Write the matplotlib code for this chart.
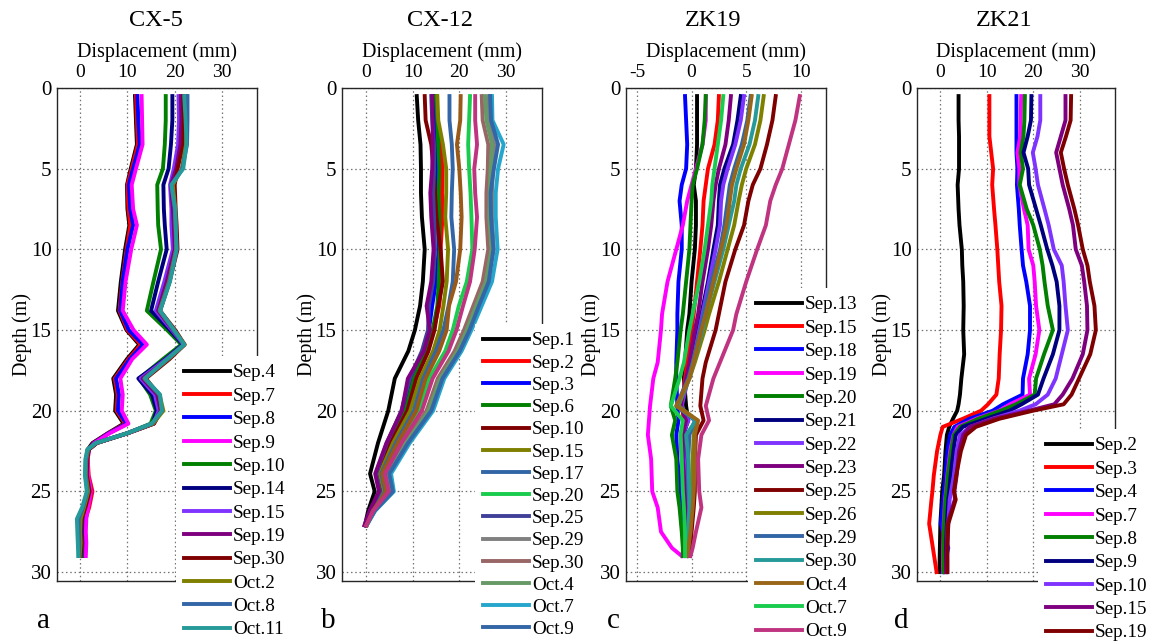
import matplotlib
matplotlib.use("Agg")
import matplotlib.pyplot as plt

plt.rcParams["font.family"] = ["Liberation Serif", "DejaVu Serif"]
plt.rcParams["axes.unicode_minus"] = False

# ---------------- CX-5 ----------------
cx5_depth = [0.5, 2, 3.5, 5, 6, 7.5, 8.5, 10, 12, 13.8, 15, 15.9, 16.8, 18, 19, 20,
             20.8, 21.4, 22, 22.4, 23, 24, 25, 26, 26.7, 27.5, 28.2, 29]
cx5_dates = ["Sep.4", "Sep.7", "Sep.8", "Sep.9", "Sep.10", "Sep.14", "Sep.15",
             "Sep.19", "Sep.30", "Oct.2", "Oct.8", "Oct.11"]
cx5_sep4 = [11.6, 11.8, 12.0, 10.7, 9.9, 10.0, 10.4, 9.5, 8.6, 8.0, 9.8, 12.5, 9.9, 7.0,
            7.6, 7.4, 9.2, 5.8, 2.6, 1.6, 1.3, 1.4, 2.1, 1.2, 0.6, 0.5, 0.5, 0.4]
cx5_sep7 = [11.8, 12.0, 12.2, 10.9, 10.0, 10.2, 10.6, 9.8, 8.9, 8.3, 10.0, 12.8, 10.2, 7.3,
            7.9, 7.7, 9.5, 5.9, 2.8, 1.8, 1.6, 1.8, 2.6, 1.9, 1.1, 0.8, 0.9, 0.8]
cx5_sep8 = [12.1, 12.3, 12.6, 11.2, 10.3, 10.6, 11.2, 10.0, 9.0, 8.5, 10.3, 13.3, 10.5, 7.6,
            8.2, 8.0, 9.8, 6.0, 2.9, 1.8, 1.5, 1.6, 2.3, 1.6, 1.0, 1.0, 1.1, 1.0]
cx5_sep9 = [13.0, 13.1, 13.2, 11.8, 10.9, 11.2, 12.0, 10.8, 9.6, 9.0, 11.3, 14.1, 11.0, 8.5,
            9.0, 8.8, 10.2, 6.2, 3.0, 1.9, 1.6, 1.7, 2.3, 1.7, 1.3, 1.2, 1.3, 1.2]
cx5_sep10 = [18.1, 18.1, 17.9, 17.5, 16.3, 16.4, 16.5, 17.1, 15.5, 14.1, 18.4, 21.4, 17.5, 12.5,
             14.8, 16.0, 14.9, 9.9, 3.4, 1.8, 1.3, 1.3, 1.8, 1.0, 0.3, 0.2, 0.3, 0.3]
cx5_sep14 = [19.5, 19.5, 19.2, 18.7, 17.6, 17.7, 17.9, 18.3, 16.5, 15.0, 19.0, 21.7, 18.0, 12.3,
             15.2, 16.2, 15.3, 9.9, 3.4, 1.8, 1.3, 1.2, 1.6, 0.8, 0.0, -0.1, 0.2, 0.0]
cx5_sep15 = [20.8, 20.9, 20.7, 19.8, 19.0, 19.3, 19.3, 19.6, 17.8, 16.0, 19.4, 21.9, 18.2, 12.8,
             15.8, 16.6, 15.5, 10.0, 3.5, 1.8, 1.4, 1.2, 1.6, 0.9, 0.2, 0.1, 0.2, 0.0]
cx5_sep19 = [21.3, 21.4, 21.2, 20.3, 19.2, 19.6, 19.8, 20.0, 18.3, 16.5, 19.6, 22.0, 18.6, 13.2,
             16.3, 17.0, 15.6, 10.0, 3.5, 1.8, 1.4, 1.3, 1.7, 0.9, 0.2, 0.1, 0.2, 0.0]
cx5_sep30 = [21.8, 21.9, 21.8, 20.6, 20.0, 20.2, 20.4, 20.6, 18.9, 16.9, 20.1, 22.1, 18.9, 13.9,
             16.6, 17.2, 15.6, 10.0, 3.5, 1.8, 1.5, 1.4, 2.0, 1.1, 0.3, 0.2, 0.3, 0.1]
cx5_oct2 = [22.5, 22.6, 22.4, 21.5, 19.6, 20.1, 20.2, 20.3, 18.8, 16.8, 19.8, 22.1, 18.6, 13.6,
            16.8, 17.6, 15.4, 9.9, 3.4, 1.7, 1.3, 1.2, 1.7, 0.8, 0.1, 0.0, 0.1, -0.1]
cx5_oct8 = [22.7, 22.7, 22.6, 21.6, 19.3, 20.0, 20.2, 20.4, 18.9, 16.9, 19.7, 22.0, 18.5, 13.6,
            16.7, 17.3, 15.2, 9.8, 3.3, 1.6, 1.2, 1.1, 1.5, 0.6, -0.3, -0.3, -0.2, -0.3]
cx5_oct11 = [22.0, 22.3, 22.5, 21.8, 19.3, 20.1, 20.2, 20.4, 19.0, 16.9, 19.9, 22.0, 18.4, 13.7,
             16.9, 17.3, 15.1, 9.9, 3.3, 1.5, 1.1, 1.0, 1.4, 0.4, -0.7, -0.6, -0.5, -0.4]
cx5_colors = ["#000000", "#ff0000", "#0000ff", "#ff00ff", "#007f00", "#00007f",
              "#7f33ff", "#7f007f", "#7f0000", "#7f7f00", "#3366a6", "#269999"]

# ---------------- CX-12 ----------------
cx12_depth = [0.5, 2, 3.5, 5, 6.5, 8, 10, 12, 13.5, 15, 16.3, 18, 20, 22, 23.9, 25, 26.2, 27.1]
cx12_dates = ["Sep.1", "Sep.2", "Sep.3", "Sep.6", "Sep.10", "Sep.15", "Sep.17", "Sep.20",
              "Sep.25", "Sep.29", "Sep.30", "Oct.4", "Oct.7", "Oct.9"]
cx12_sep1 = [10.9, 11.2, 11.7, 11.8, 11.8, 12.0, 12.6, 12.2, 11.6, 10.5, 9.1, 6.2, 4.8, 2.6, 0.9, 1.9, 0.5, -0.2]
cx12_sep2 = [14.8, 15.0, 16.0, 16.4, 16.3, 16.4, 16.0, 16.2, 15.7, 14.5, 13.0, 10.5, 8.6, 5.5, 2.7, 3.6, 1.2, 0.2]
cx12_sep3 = [14.5, 14.6, 15.2, 15.3, 15.0, 15.4, 15.6, 15.0, 14.2, 13.5, 12.2, 9.6, 7.8, 4.6, 2.3, 3.2, 1.0, -0.1]
cx12_sep6 = [15.0, 15.3, 15.5, 15.7, 15.6, 15.7, 15.8, 15.6, 15.3, 14.3, 12.8, 10.3, 8.5, 5.0, 2.6, 3.4, 1.1, 0.0]
cx12_sep10 = [12.6, 12.8, 14.0, 14.5, 14.8, 15.1, 16.0, 16.5, 15.5, 14.7, 13.4, 10.8, 8.9, 5.3, 2.8, 3.7, 1.2, 0.0]
cx12_sep15 = [15.3, 15.5, 16.5, 17.2, 17.2, 17.0, 17.6, 17.3, 16.6, 15.8, 14.4, 11.6, 9.5, 5.8, 3.0, 3.9, 1.3, 0.0]
cx12_sep17 = [17.9, 17.9, 18.4, 18.6, 18.4, 18.3, 18.9, 18.6, 17.7, 16.6, 15.0, 12.3, 10.3, 6.4, 3.3, 4.2, 1.4, 0.1]
cx12_sep20 = [22.3, 22.1, 21.9, 22.1, 22.4, 22.6, 22.8, 21.6, 19.9, 18.6, 17.0, 13.6, 11.4, 7.2, 3.8, 4.6, 1.5, 0.1]
cx12_sep25 = [14.0, 14.2, 14.6, 14.6, 14.4, 14.6, 14.8, 14.4, 13.5, 13.3, 12.0, 9.4, 7.6, 4.5, 2.2, 3.0, 0.9, -0.2]
cx12_sep29 = [26.3, 26.4, 27.5, 27.2, 27.0, 27.0, 27.4, 26.0, 23.8, 21.8, 19.6, 16.0, 13.6, 8.6, 4.7, 5.6, 1.8, 0.2]
cx12_sep30 = [24.8, 25.0, 26.2, 26.1, 25.8, 25.8, 26.2, 25.0, 23.0, 21.0, 19.0, 15.4, 13.0, 8.2, 4.5, 5.4, 1.7, 0.1]
cx12_oct4 = [25.5, 25.8, 27.0, 26.7, 26.5, 26.4, 26.9, 25.7, 23.6, 21.6, 19.6, 15.9, 13.4, 8.6, 4.8, 5.8, 1.9, 0.1]
cx12_oct7 = [27.0, 27.1, 29.5, 28.3, 27.8, 27.8, 28.2, 27.0, 24.8, 22.6, 20.5, 16.8, 14.4, 9.4, 5.4, 6.0, 2.0, 0.2]
cx12_oct9 = [26.6, 26.8, 28.3, 27.4, 26.7, 26.8, 27.3, 26.3, 24.2, 22.2, 20.1, 16.4, 14.0, 9.0, 5.0, 5.8, 1.9, 0.1]
# further readings drawn without legend entries
cx12_run_purple = [14.2, 14.3, 14.3, 14.2, 13.8, 14.0, 14.5, 14.0, 13.0, 13.7, 12.4, 9.0, 7.7, 4.4, 2.0, 2.8, 0.8, -0.3]
cx12_run_brown = [20.3, 20.2, 19.5, 20.0, 20.3, 20.5, 20.2, 19.3, 17.8, 17.3, 15.7, 12.8, 10.8, 6.8, 3.5, 4.4, 1.5, 0.1]
cx12_run_rose = [23.4, 23.4, 23.8, 23.2, 23.4, 23.8, 23.3, 22.3, 20.8, 19.4, 17.7, 14.3, 12.0, 7.6, 4.1, 4.9, 1.6, 0.1]
cx12_colors = ["#000000", "#ff0000", "#0000ff", "#007f00", "#7f0000", "#7f7f00", "#3366a6",
               "#1acc4d", "#404099", "#808080", "#996666", "#669966", "#26a6cc", "#3366a6"]
cx12_extra_colors = ["#7f007f", "#995919", "#bf3380"]

# ---------------- ZK19 ----------------
zk19_depth = [0.5, 2, 3.5, 5, 6, 7, 8.5, 10, 12, 14, 15, 17, 18, 19.7, 20.6, 21.5, 23, 25,
              26, 27.5, 28.5, 29]
zk19_dates = ["Sep.13", "Sep.15", "Sep.18", "Sep.19", "Sep.20", "Sep.21", "Sep.22", "Sep.23",
              "Sep.25", "Sep.26", "Sep.29", "Sep.30", "Oct.4", "Oct.7", "Oct.9"]
zk19_sep13 = [0.5, 0.5, 0.5, 0.4, 0.2, 0.4, 0.4, 0.3, 0.0, -0.2, -0.4, -0.6, -0.7, -0.5, -0.3, -0.8, -0.7, -0.6, -0.5, -0.5, -0.6, -0.7]
zk19_sep15 = [2.5, 2.4, 2.1, 1.5, 1.3, 1.1, 1.0, 0.8, 0.5, 0.2, 0.0, -0.4, -0.6, -0.9, -0.7, -1.0, -0.9, -0.8, -0.6, -0.5, -0.6, -0.6]
zk19_sep18 = [-0.6, -0.5, -0.4, -0.5, -0.9, -1.1, -0.9, -0.9, -1.2, -1.3, -1.3, -1.4, -1.4, -1.3, -1.2, -1.4, -1.3, -1.0, -0.8, -0.7, -0.7, -0.8]
zk19_sep19 = [1.3, 1.3, 1.0, 0.4, 0.0, -0.4, -0.8, -1.4, -2.2, -2.7, -2.8, -3.1, -3.5, -3.8, -3.9, -4.0, -3.7, -3.6, -3.1, -2.8, -1.8, -0.9]
zk19_sep20 = [1.3, 1.2, 1.0, 0.5, 0.1, 0.0, -0.1, -0.2, -0.5, -0.8, -1.0, -1.3, -1.5, -1.9, -1.5, -1.8, -1.4, -1.3, -1.1, -0.9, -0.8, -0.8]
zk19_sep21 = [4.5, 4.2, 3.8, 3.0, 2.6, 2.5, 2.4, 2.0, 1.5, 0.9, 0.6, 0.0, -0.4, -0.9, -0.4, -0.7, -0.6, -0.5, -0.4, -0.3, -0.4, -0.5]
zk19_sep22 = [4.8, 4.5, 4.0, 3.3, 2.9, 2.7, 2.6, 2.2, 1.6, 1.0, 0.7, 0.1, -0.3, -0.9, -0.3, -0.8, -0.7, -0.5, -0.4, -0.3, -0.4, -0.5]
zk19_sep23 = [3.6, 3.4, 3.1, 2.5, 2.2, 2.0, 1.8, 1.5, 1.0, 0.6, 0.3, -0.2, -0.5, -1.0, -0.5, -0.8, -0.8, -0.6, -0.5, -0.4, -0.5, -0.5]
zk19_sep25 = [7.7, 7.4, 6.9, 6.3, 5.6, 5.2, 4.8, 4.0, 3.1, 2.5, 2.2, 1.3, 1.0, 0.8, 1.1, 0.4, 0.3, 0.3, 0.2, 0.0, -0.1, -0.2]
zk19_sep26 = [6.6, 6.3, 5.8, 5.0, 4.6, 4.3, 3.9, 3.3, 2.5, 1.6, 1.2, 0.3, -0.2, -1.2, 0.5, 0.2, 0.1, 0.0, -0.1, -0.2, -0.3, -0.4]
zk19_sep29 = [5.4, 5.1, 4.6, 3.9, 3.5, 3.3, 3.0, 2.6, 1.8, 1.1, 0.8, 0.1, -0.3, -1.4, 0.3, -0.2, -0.3, -0.3, -0.2, -0.3, -0.4, -0.5]
zk19_sep30 = [6.1, 5.8, 5.3, 4.5, 4.1, 3.9, 3.4, 2.9, 2.1, 1.3, 1.0, 0.2, -0.2, -1.3, 0.4, -0.5, -0.3, -0.2, -0.2, -0.3, -0.4, -0.5]
zk19_oct4 = [5.5, 5.2, 4.8, 4.1, 3.7, 3.5, 3.2, 2.7, 2.0, 1.3, 0.9, 0.2, -0.2, -1.4, 0.6, 0.3, 0.3, 0.2, 0.1, -0.1, -0.3, -0.4]
zk19_oct7 = [2.9, 2.7, 2.4, 2.1, 1.9, 1.8, 1.5, 1.2, 0.7, 0.1, -0.2, -0.7, -1.1, -1.9, -0.8, -1.0, -0.9, -0.8, -0.7, -0.6, -0.6, -0.6]
zk19_oct9 = [9.9, 9.5, 8.9, 8.3, 7.7, 7.2, 6.8, 6.0, 5.0, 4.1, 3.8, 2.6, 2.0, 1.3, 1.6, 0.9, 0.6, 0.7, 0.9, 0.4, 0.1, -0.1]
zk19_colors = ["#000000", "#ff0000", "#0000ff", "#ff00ff", "#007f00", "#00007f", "#7f33ff",
               "#7f007f", "#7f0000", "#7f7f00", "#3366a6", "#269999", "#996619", "#1acc4d",
               "#bf3380"]

# ---------------- ZK21 ----------------
zk21_depth = [0.5, 2, 3, 4, 5, 6, 7.5, 8.5, 10, 11, 12, 13.5, 15, 16.5, 18, 19, 19.6, 20,
              20.5, 21, 21.5, 22.5, 24, 25, 25.5, 27, 28.5, 30]
zk21_dates = ["Sep.2", "Sep.3", "Sep.4", "Sep.7", "Sep.8", "Sep.9", "Sep.10", "Sep.15", "Sep.19"]
zk21_sep2 = [4.0, 4.0, 4.1, 4.1, 4.1, 3.8, 4.0, 4.2, 4.7, 4.8, 5.0, 5.1, 5.0, 5.2, 4.6, 4.3,
             4.0, 3.7, 2.8, 2.0, 1.5, 1.2, 0.9, 0.5, 0.4, 0.1, 0.0, -0.1]
zk21_sep3 = [10.6, 10.6, 10.6, 11.0, 11.4, 11.2, 11.6, 11.9, 12.3, 12.5, 12.7, 13.2, 13.1, 12.8,
             12.6, 12.1, 10.3, 8.8, 4.9, 0.6, 0.1, -0.6, -1.3, -1.6, -1.8, -2.3, -1.5, -0.7]
zk21_sep4 = [16.4, 16.4, 16.4, 16.4, 16.6, 16.5, 16.9, 17.1, 17.5, 17.8, 18.5, 19.3, 19.3, 18.8,
             17.8, 17.7, 13.5, 11.3, 6.3, 3.1, 2.2, 1.6, 1.2, 0.9, 0.7, 0.2, 1.8, 0.6]
zk21_sep7 = [17.4, 17.3, 17.2, 16.6, 17.0, 17.0, 18.0, 18.8, 19.0, 20.0, 20.3, 20.6, 21.3, 20.5,
             19.1, 19.3, 15.0, 12.7, 7.7, 3.8, 2.9, 2.2, 1.6, 1.3, 1.1, 0.8, 0.7, 0.7]
zk21_sep8 = [18.2, 18.1, 17.9, 17.3, 17.8, 17.1, 18.6, 20.0, 21.4, 22.0, 22.4, 23.1, 24.2, 22.3,
             20.6, 20.3, 16.3, 13.0, 8.2, 4.3, 3.0, 2.4, 1.7, 1.4, 1.2, 0.9, 0.8, 0.8]
zk21_sep9 = [19.6, 19.5, 18.8, 17.9, 18.9, 19.1, 20.6, 21.6, 23.0, 24.1, 25.0, 25.6, 25.6, 24.2,
             22.2, 21.0, 17.5, 14.9, 9.9, 4.9, 3.4, 2.9, 2.3, 2.0, 1.8, 1.5, 1.3, 1.3]
zk21_sep10 = [21.5, 21.5, 20.9, 19.9, 20.5, 21.0, 22.4, 23.3, 24.4, 26.1, 26.5, 26.9, 27.4, 26.1,
              24.8, 23.1, 20.5, 17.0, 11.2, 6.5, 4.3, 3.6, 3.0, 2.4, 2.1, 1.8, 1.6, 1.6]
zk21_sep15 = [26.9, 26.9, 25.9, 24.9, 25.6, 26.3, 27.7, 28.5, 29.1, 30.4, 30.9, 31.5, 31.6, 30.6,
              28.4, 26.3, 24.5, 19.0, 11.5, 6.4, 5.0, 4.1, 3.6, 3.1, 3.2, 1.6, 1.4, 1.3]
zk21_sep19 = [28.1, 28.0, 27.0, 25.9, 26.6, 27.4, 28.8, 29.6, 30.6, 31.6, 32.1, 33.1, 33.4, 32.2,
              29.8, 28.2, 26.5, 19.9, 12.7, 7.7, 5.6, 4.5, 3.5, 3.0, 3.4, 1.8, 1.6, 1.6]
zk21_colors = ["#000000", "#ff0000", "#0000ff", "#ff00ff", "#007f00", "#00007f", "#7f33ff",
               "#7f007f", "#7f0000"]

disp_ticks_mm = [0, 10, 20, 30]
disp_ticks_zk19 = [-5, 0, 5, 10]
depth_ticks = [0, 5, 10, 15, 20, 25, 30]

W, H = 1156, 641
fig = plt.figure(figsize=(W / 100, H / 100), dpi=100)


def px_axes(left, top, width, height):
    return fig.add_axes([left / W, 1 - (top + height) / H, width / W, height / H])


def draw_panel(ax, depth, series, labels, colors, xlim, xticks, extra=()):
    for vals, lab, col in zip(series, labels, colors):
        ax.plot(vals, depth, color=col, lw=2.8, label=lab, zorder=3)
    for vals, col in extra:
        ax.plot(vals, depth, color=col, lw=2.8, label="_run", zorder=3)
    ax.set_xlim(*xlim)
    ax.set_ylim(30.55, 0)
    ax.set_xticks(xticks)
    ax.set_yticks(depth_ticks)
    ax.xaxis.tick_top()
    ax.xaxis.set_label_position("top")
    ax.set_xlabel("Displacement (mm)", fontsize=14.5, labelpad=5)
    ax.set_ylabel("Depth (m)", fontsize=14.5, labelpad=-1)
    ax.tick_params(axis="x", labelsize=14, pad=5, length=0)
    ax.tick_params(axis="y", labelsize=15, pad=4, length=0)
    ax.grid(True, ls=(0, (1.2, 2.2)), color="0.45", lw=0.9)
    for s in ax.spines.values():
        s.set_linewidth(1.0)
        s.set_color("0.15")


def add_legend(ax, left, top, spacing):
    ax.legend(loc="upper left", bbox_to_anchor=(left / W, 1 - top / H),
              bbox_transform=fig.transFigure, borderaxespad=0, borderpad=0.42,
              frameon=True, fancybox=False, facecolor="white", edgecolor="none",
              framealpha=1, fontsize=13.8, handlelength=2.4, handletextpad=0.15,
              labelspacing=spacing)


axA = px_axes(57, 88, 200, 493)
draw_panel(axA, cx5_depth,
           [cx5_sep4, cx5_sep7, cx5_sep8, cx5_sep9, cx5_sep10, cx5_sep14, cx5_sep15,
            cx5_sep19, cx5_sep30, cx5_oct2, cx5_oct8, cx5_oct11],
           cx5_dates, cx5_colors, (-4.9, 37.4), disp_ticks_mm)
add_legend(axA, 176, 356, 0.31)

axB = px_axes(342, 88, 200, 493)
draw_panel(axB, cx12_depth,
           [cx12_sep1, cx12_sep2, cx12_sep3, cx12_sep6, cx12_sep10, cx12_sep15, cx12_sep17,
            cx12_sep20, cx12_sep25, cx12_sep29, cx12_sep30, cx12_oct4, cx12_oct7, cx12_oct9],
           cx12_dates, cx12_colors, (-5.1, 37.7), disp_ticks_mm,
           extra=[(cx12_run_purple, cx12_extra_colors[0]),
                  (cx12_run_brown, cx12_extra_colors[1]),
                  (cx12_run_rose, cx12_extra_colors[2])])
add_legend(axB, 475, 324, 0.25)

axC = px_axes(626, 88, 200, 493)
draw_panel(axC, zk19_depth,
           [zk19_sep13, zk19_sep15, zk19_sep18, zk19_sep19, zk19_sep20, zk19_sep21,
            zk19_sep22, zk19_sep23, zk19_sep25, zk19_sep26, zk19_sep29, zk19_sep30,
            zk19_oct4, zk19_oct7, zk19_oct9],
           zk19_dates, zk19_colors, (-6.0, 12.3), disp_ticks_zk19)
add_legend(axC, 748, 288, 0.31)

axD = px_axes(917, 88, 198, 493)
draw_panel(axD, zk21_depth,
           [zk21_sep2, zk21_sep3, zk21_sep4, zk21_sep7, zk21_sep8, zk21_sep9, zk21_sep10,
            zk21_sep15, zk21_sep19],
           zk21_dates, zk21_colors, (-4.9, 37.5), disp_ticks_mm)
add_legend(axD, 1038, 429, 0.31)

# well names above each panel and panel letters below
for name, xc in [("CX-5", 156), ("CX-12", 440), ("ZK19", 713), ("ZK21", 1004)]:
    fig.text(xc / W, 1 - 20 / H, name, ha="center", va="center", fontsize=17.5)
for letter, xc in [("a", 43), ("b", 328), ("c", 613), ("d", 901)]:
    fig.text(xc / W, 1 - 628 / H, letter, ha="center", va="baseline", fontsize=21)

fig.savefig("out.png", dpi=100)
